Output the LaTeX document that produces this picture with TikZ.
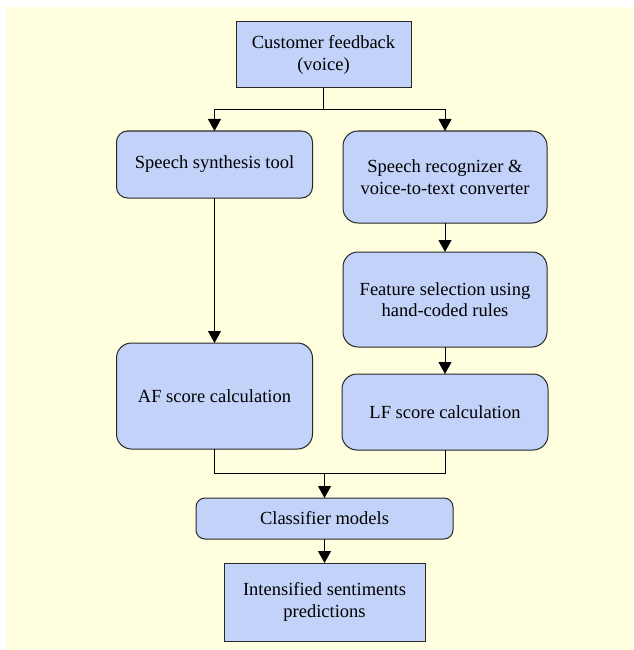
\documentclass[tikz,border=0pt]{standalone}
\usepackage{fontspec}
\setmainfont{Liberation Serif}
\usetikzlibrary{arrows.meta}
\definecolor{bgyellow}{RGB}{255,255,224}
\definecolor{boxblue}{RGB}{194,210,248}
\definecolor{edgegray}{RGB}{40,40,40}
\begin{document}
\begin{tikzpicture}[x=1pt,y=-1pt,
  base/.style={draw=edgegray, fill=boxblue, line width=1pt, align=center,
    font=\fontsize{18.5}{21.5}\selectfont, inner sep=0pt, outer sep=0pt},
  sqbox/.style={base},
  rbox/.style={base, rounded corners=15pt},
  smallr/.style={base, rounded corners=9pt},
  conn/.style={draw=black, line width=1pt},
  arr/.style={conn, -{Triangle[length=12pt,width=13pt]}}]
  \useasboundingbox (0,0) rectangle (633,650);
  \fill[bgyellow] (6,7) rectangle (633,650);

  \node[sqbox, minimum width=175pt, minimum height=66pt] (cf) at (323.5,55) {Customer feedback\\(voice)};
  \node[smallr, rounded corners=11pt, minimum width=196pt, minimum height=67pt] (syn) at (214.5,164.5) {Speech synthesis tool};
  \node[rbox, minimum width=204pt, minimum height=92pt] (rec) at (445,177) {Speech recognizer \&\\voice-to-text converter};
  \node[rbox, minimum width=204pt, minimum height=95pt] (feat) at (445,299.5) {Feature selection using\\hand-coded rules};
  \node[rbox, minimum width=196pt, minimum height=106pt] (af) at (214.5,396) {AF score calculation};
  \node[rbox, minimum width=206pt, minimum height=76pt] (lf) at (445,412) {LF score calculation};
  \node[smallr, minimum width=257pt, minimum height=41pt] (cls) at (324.5,518.5) {Classifier models};
  \node[sqbox, minimum width=201pt, minimum height=78pt] (out) at (324.5,602) {Intensified sentiments\\predictions};

  \coordinate (split) at (323.5,110);
  \coordinate (join) at (324.5,473);

  \draw[conn] (cf.south) -- (split);
  \draw[arr] (split) -| (syn.north);
  \draw[arr] (split) -| (rec.north);
  \draw[arr] (syn.south) -- (af.north);
  \draw[arr] (rec.south) -- (feat.north);
  \draw[arr] (feat.south) -- (lf.north);
  \draw[conn] (af.south) |- (join);
  \draw[conn] (lf.south) |- (join);
  \draw[arr] (join) -- (cls.north);
  \draw[arr] (cls.south) -- (out.north);
\end{tikzpicture}
\end{document}
